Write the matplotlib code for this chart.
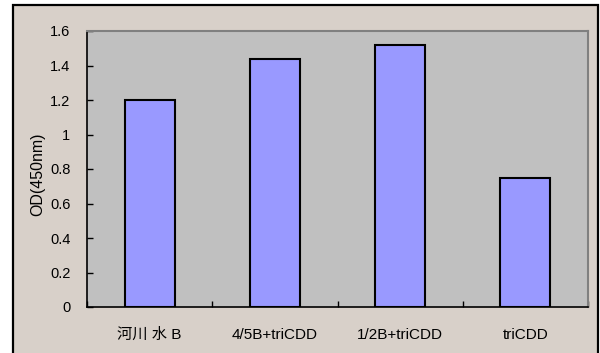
import matplotlib.pyplot as plt
from matplotlib.patches import Rectangle

plt.rcParams['font.family'] = ['Liberation Sans', 'Noto Sans CJK SC', 'DejaVu Sans']

categories = ['河川 水 B', '4/5B+triCDD', '1/2B+triCDD', 'triCDD']
od_values = [1.20, 1.44, 1.52, 0.75]
y_ticks = [0, 0.2, 0.4, 0.6, 0.8, 1.0, 1.2, 1.4, 1.6]
y_labels = ['0', '0.2', '0.4', '0.6', '0.8', '1', '1.2', '1.4', '1.6']

fig = plt.figure(figsize=(6.0, 3.53), dpi=100, facecolor='white')

# chart area frame (beige with black border, bottom cut off)
frame = Rectangle((12.5 / 600, -0.05), (598 - 12.5) / 600, 1.05 - 5 / 353,
                  transform=fig.transFigure, facecolor='#D8D0C9',
                  edgecolor='black', linewidth=1.6, zorder=-1)
fig.add_artist(frame)

ax = fig.add_axes([87 / 600, 1 - 307 / 353, (588 - 87) / 600, (307 - 31) / 353])
ax.set_zorder(1)
ax.set_facecolor('#C0C0C0')

x = range(len(categories))
ax.bar(x, od_values, width=0.4, color='#9999FF', edgecolor='black',
       linewidth=1.5, zorder=2)

ax.set_xlim(-0.5, len(categories) - 0.5)
ax.set_ylim(0, 1.6)

ax.set_yticks(y_ticks)
ax.set_yticklabels(y_labels, fontsize=10.5)
ax.set_xticks(list(x))
ax.set_xticklabels(categories, fontsize=11)
ax.set_xticks([i - 0.5 for i in range(len(categories) + 1)], minor=True)

ax.tick_params(axis='y', direction='in', length=4, width=1, pad=12, colors='black')
ax.tick_params(axis='x', which='major', length=0, pad=15)
ax.tick_params(axis='x', which='minor', direction='in', length=4, width=1)

ax.set_ylabel('OD(450nm)', fontsize=11.5)
ax.yaxis.set_label_coords(-0.0838, 0.482)

for side in ['top', 'right']:
    ax.spines[side].set_color('#808080')
    ax.spines[side].set_linewidth(1.5)
for side in ['left', 'bottom']:
    ax.spines[side].set_color('black')
    ax.spines[side].set_linewidth(1.2)

fig.savefig('out.png', dpi=100, facecolor=fig.get_facecolor())
